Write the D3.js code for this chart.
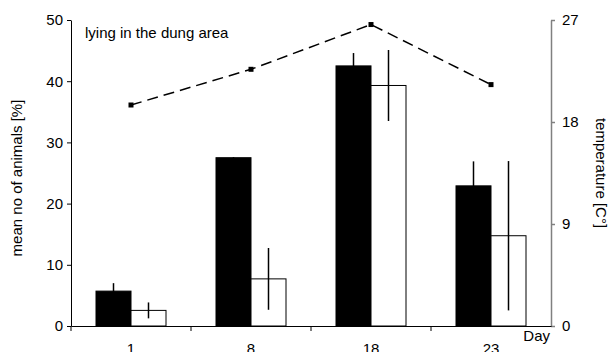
<!DOCTYPE html>
<html>
<head>
<meta charset="utf-8">
<script src="https://cdn.jsdelivr.net/npm/d3@7"></script>
<style>
  body { margin: 0; background: #fff; }
  text { font-family: "Liberation Sans", Arial, sans-serif; }
</style>
</head>
<body>
<div id="chart"></div>
<script>
// data
var days = ['1', '8', '18', '23'];
var blackVals = [5.7, 27.5, 42.5, 22.9];
var blackErr = [1.3, 0.1, 2.1, 4.0];
var whiteVals = [2.55, 7.7, 39.3, 14.75];
var whiteErr = [1.3, 5.05, 5.8, 12.2];
var temps = [19.5, 22.65, 26.6, 21.3];
var yTicks = [0, 10, 20, 30, 40, 50];
var tTicks = [0, 9, 18, 27];

var chart_width = 615;
var chart_height = 352;
var m_left = 71, m_right = 551, m_top = 20, m_bottom = 326;
var fs = 15;

var svg = d3.select('#chart')
  .append('svg')
  .attr('width', chart_width)
  .attr('height', chart_height);

// scales
var x_scale = d3.scaleBand()
  .domain(days)
  .range([m_left, m_right]);

var groupW = 70;
var x1 = d3.scaleBand()
  .domain(['black', 'white'])
  .range([0, groupW]);

var y_scale = d3.scaleLinear()
  .domain([0, 50])
  .range([m_bottom, m_top]);

var t_scale = d3.scaleLinear()
  .domain([0, 27])
  .range([m_bottom, m_top]);

function center(d) {
  return x_scale(d) + x_scale.bandwidth() / 2;
}
function barX(d, s) {
  return x_scale(d) + (x_scale.bandwidth() - groupW) / 2 + x1(s);
}

var series = [
  {key: 'black', vals: blackVals, err: blackErr, fill: '#000'},
  {key: 'white', vals: whiteVals, err: whiteErr, fill: '#fff'}
];

// bars
series.forEach(function(s) {
  svg.selectAll('rect.' + s.key)
    .data(days)
    .enter()
    .append('rect')
    .attr('class', s.key)
    .attr('x', function(d) { return barX(d, s.key); })
    .attr('y', function(d, i) { return y_scale(s.vals[i]); })
    .attr('width', x1.bandwidth())
    .attr('height', function(d, i) { return m_bottom - y_scale(s.vals[i]); })
    .attr('fill', s.fill)
    .attr('stroke', '#000')
    .attr('stroke-width', 1);
});

// error bars
series.forEach(function(s) {
  svg.selectAll('line.err-' + s.key)
    .data(days)
    .enter()
    .append('line')
    .attr('class', 'err-' + s.key)
    .attr('x1', function(d) { return barX(d, s.key) + x1.bandwidth() / 2; })
    .attr('x2', function(d) { return barX(d, s.key) + x1.bandwidth() / 2; })
    .attr('y1', function(d, i) { return y_scale(s.vals[i] - s.err[i]); })
    .attr('y2', function(d, i) { return y_scale(s.vals[i] + s.err[i]); })
    .attr('stroke', '#000')
    .attr('stroke-width', 1.5);
});

// temperature line
var line = d3.line()
  .x(function(d, i) { return center(days[i]); })
  .y(function(d) { return t_scale(d); });

svg.append('path')
  .datum(temps)
  .attr('d', line)
  .attr('fill', 'none')
  .attr('stroke', '#000')
  .attr('stroke-width', 1.5)
  .attr('stroke-dasharray', '11,6');

svg.selectAll('rect.marker')
  .data(temps)
  .enter()
  .append('rect')
  .attr('class', 'marker')
  .attr('x', function(d, i) { return center(days[i]) - 2.5; })
  .attr('y', function(d) { return t_scale(d) - 2.5; })
  .attr('width', 5)
  .attr('height', 5)
  .attr('fill', '#000');

// left axis
var yAxis = svg.append('g')
  .attr('transform', 'translate(' + m_left + ',0)')
  .call(d3.axisLeft(y_scale).tickValues(yTicks).tickSize(4).tickSizeOuter(0).tickPadding(4));
yAxis.selectAll('text').attr('font-size', fs).attr('fill', '#000')
  .style('font-family', '"Liberation Sans", Arial, sans-serif');

// right axis (grey)
var tAxis = svg.append('g')
  .attr('transform', 'translate(' + m_right + ',0)')
  .call(d3.axisRight(t_scale).tickValues(tTicks).tickSize(4).tickSizeOuter(0).tickPadding(7));
tAxis.selectAll('path, line').attr('stroke', '#808080').attr('stroke-width', 1.5);
tAxis.selectAll('text').attr('font-size', fs).attr('fill', '#000')
  .style('font-family', '"Liberation Sans", Arial, sans-serif');

// bottom axis: labels at centres, ticks at band edges
var xAxis = svg.append('g')
  .attr('transform', 'translate(0,' + m_bottom + ')')
  .call(d3.axisBottom(x_scale).tickSize(0).tickSizeOuter(0).tickPadding(17));
xAxis.select('.domain').attr('stroke', '#000');
xAxis.selectAll('text').attr('font-size', fs).attr('fill', '#000')
  .style('font-family', '"Liberation Sans", Arial, sans-serif');

svg.selectAll('line.xtick')
  .data(days)
  .enter()
  .append('line')
  .attr('class', 'xtick')
  .attr('x1', function(d) { return x_scale(d); })
  .attr('x2', function(d) { return x_scale(d); })
  .attr('y1', m_bottom)
  .attr('y2', m_bottom + 5)
  .attr('stroke', '#000');

svg.append('text')
  .attr('x', m_right - 1)
  .attr('y', m_bottom + 15)
  .attr('text-anchor', 'end')
  .attr('font-size', fs)
  .text('Day');

// axis titles
svg.append('text')
  .attr('transform', 'translate(22,' + ((m_top + m_bottom) / 2 + 5) + ') rotate(-90)')
  .attr('text-anchor', 'middle')
  .attr('font-size', fs)
  .text('mean no of animals [%]');

svg.append('text')
  .attr('transform', 'translate(596,' + ((m_top + m_bottom) / 2) + ') rotate(90)')
  .attr('text-anchor', 'middle')
  .attr('font-size', fs)
  .text('temperature [C°]');

// annotation
svg.append('text')
  .attr('x', 85)
  .attr('y', 38)
  .attr('font-size', fs)
  .text('lying in the dung area');
</script>
</body>
</html>
